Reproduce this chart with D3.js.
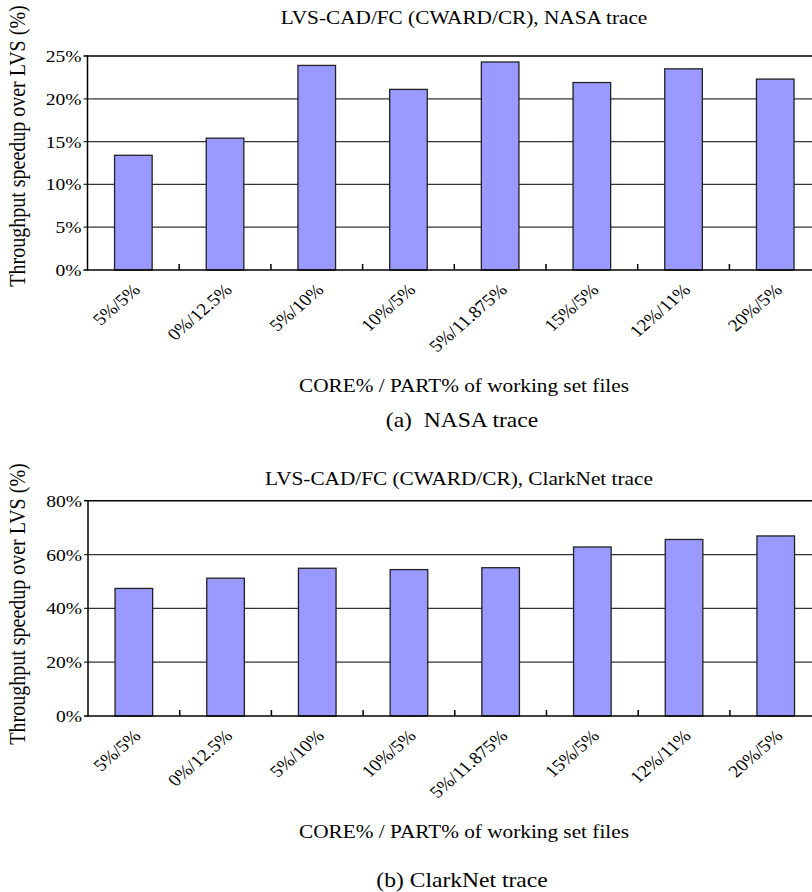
<!DOCTYPE html>
<html lang="en">
<head>
    <meta charset="UTF-8">
    <title>LVS-CAD/FC throughput speedup</title>
    <script src="https://cdn.jsdelivr.net/npm/d3@7/dist/d3.min.js"></script>
    <style>
        body { margin: 0; background: #fff; }
        svg { display: block; }
        svg text { font-family: "Liberation Serif", "Times New Roman", serif; fill: #000; }
        svg .bar { fill: #9999ff; stroke: #222; stroke-width: 1.3px; }
        svg .grid { stroke: #333; stroke-width: 1.3px; }
        svg .frame { stroke: #000; stroke-width: 1.5px; fill: none; }
    </style>
</head>
<body>
    <svg width="812" height="892"></svg>
    <script>
        // data
        var categories = ['5%/5%', '0%/12.5%', '5%/10%', '10%/5%', '5%/11.875%', '15%/5%', '12%/11%', '20%/5%'],
            nasaValues = [13.4, 15.4, 23.9, 21.1, 24.3, 21.9, 23.5, 22.3],
            clarkValues = [47.4, 51.2, 54.9, 54.4, 55.1, 62.8, 65.6, 66.9],
            nasaTicks = [0, 5, 10, 15, 20, 25],
            clarkTicks = [0, 20, 40, 60, 80];

        var svg = d3.select('svg'),
            sx = 1.15; // the original figure is stretched a bit sideways

        function stretchedText(parent, x, y, str, size, anchor, rot) {
            var g = parent.append('g')
                .attr('transform', 'translate(' + x + ',' + y + ') scale(' + sx + ',1)' + (rot ? ' rotate(' + rot + ')' : ''));
            return g.append('text')
                .attr('text-anchor', anchor)
                .style('font-size', size + 'px')
                .text(str);
        }

        function drawPanel(p) {
            var g = svg.append('g');

            var x = d3.scaleBand()
                    .domain(categories)
                    .range([p.left, p.left + 8 * 91.7])
                    .padding(0),
                y = d3.scaleLinear()
                    .domain([0, p.max])
                    .range([p.bottom, p.top]);

            // gridlines + outward y ticks
            g.selectAll('.grid')
                .data(p.ticks.filter(function(d) { return d > 0 && d < p.max; }))
                .enter().append('line')
                .classed('grid', true)
                .attr('x1', p.left - 4)
                .attr('x2', 812)
                .attr('y1', function(d) { return y(d); })
                .attr('y2', function(d) { return y(d); });

            var bw = x.bandwidth() * 0.41;
            g.selectAll('.bar')
                .data(p.values)
                .enter().append('rect')
                .classed('bar', true)
                .attr('x', function(d, i) { return x(categories[i]) + (x.bandwidth() - bw) / 2; })
                .attr('y', function(d) { return y(d); })
                .attr('width', bw)
                .attr('height', function(d) { return y(0) - y(d); });

            // frame: top line, left axis, bottom axis
            g.append('line').classed('frame', true)
                .attr('x1', p.left).attr('x2', 812).attr('y1', y(p.max)).attr('y2', y(p.max));
            g.append('line').classed('frame', true)
                .attr('x1', p.left - 4).attr('x2', 812).attr('y1', y(0)).attr('y2', y(0));
            g.append('line').classed('frame', true)
                .attr('x1', p.left).attr('x2', p.left).attr('y1', y(p.max) - 0.75).attr('y2', y(0) + 0.75);
            g.append('line').classed('frame', true)
                .attr('x1', p.left - 4).attr('x2', p.left).attr('y1', y(p.max)).attr('y2', y(p.max));

            // small inward ticks between categories
            g.selectAll('.xtick')
                .data(categories.slice(1))
                .enter().append('line')
                .classed('frame', true)
                .attr('x1', function(d) { return x(d); })
                .attr('x2', function(d) { return x(d); })
                .attr('y1', y(0))
                .attr('y2', y(0) - 6);

            p.ticks.forEach(function(t) {
                stretchedText(g, p.left - 6, y(t) + 6, t + '%', 17, 'end');
            });

            categories.forEach(function(c) {
                stretchedText(g, x(c) + x.bandwidth() / 2 + 8, y(0) + 21, c, 17, 'end', -45);
            });

            stretchedText(g, 18 + 7, p.ylabelY, 'Throughput speedup over LVS (%)', 20, 'middle', -90);
            stretchedText(g, p.titleX, p.titleY, p.title, 18.5, 'middle');
            stretchedText(g, 464, p.xlabelY, 'CORE% / PART% of working set files', 18.5, 'middle');
            stretchedText(g, 462, p.captionY, p.caption, 20.5, 'middle').style('white-space', 'pre');
        }

        drawPanel({
            values: nasaValues, ticks: nasaTicks, max: 25,
            left: 87.5, top: 56, bottom: 270,
            title: 'LVS-CAD/FC (CWARD/CR), NASA trace', titleX: 464, titleY: 24,
            ylabelY: 146, xlabelY: 392, captionY: 427, caption: '(a)  NASA trace'
        });

        drawPanel({
            values: clarkValues, ticks: clarkTicks, max: 80,
            left: 88, top: 500.7, bottom: 716,
            title: 'LVS-CAD/FC (CWARD/CR), ClarkNet trace', titleX: 459, titleY: 485,
            ylabelY: 604, xlabelY: 838, captionY: 887, caption: '(b) ClarkNet trace'
        });
    </script>
</body>
</html>
